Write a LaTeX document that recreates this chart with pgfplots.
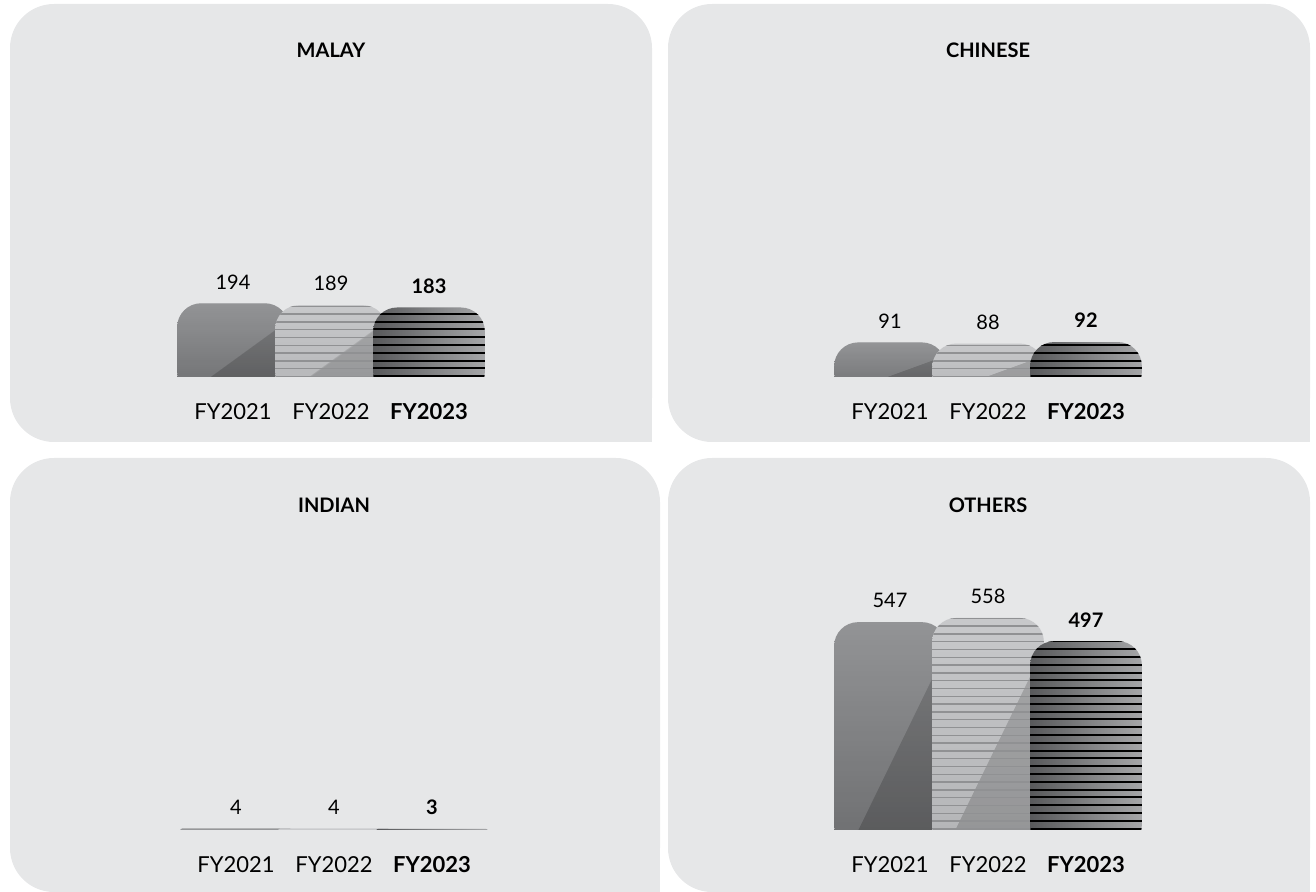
\documentclass[border=0pt]{standalone}
\usepackage{fontspec}
\setmainfont{Lato}
\usepackage{pgfplots}
\pgfplotsset{compat=1.18}
\usetikzlibrary{patterns}
\definecolor{panelbg}{HTML}{E6E7E8}
\definecolor{bonetop}{HTML}{97989A}
\definecolor{bonebot}{HTML}{6A6B6D}
\definecolor{btwotop}{HTML}{CACBCD}
\definecolor{btwobot}{HTML}{B2B3B5}
\definecolor{btwoline}{HTML}{909193}
\definecolor{bthrl}{HTML}{58595B}
\definecolor{bthrr}{HTML}{A5A6A8}
\definecolor{dgonel}{HTML}{808183}
\definecolor{dgtwol}{HTML}{BEBFC1}
\pgfdeclarehorizontalshading{dgone}{100bp}{color(0bp)=(dgonel); color(54bp)=(dgonel); color(54.2bp)=(black); color(100bp)=(black)}
\pgfdeclarehorizontalshading{dgtwo}{100bp}{color(0bp)=(dgtwol); color(54bp)=(dgtwol); color(54.2bp)=(black); color(100bp)=(black)}
\pgfdeclarepatternformonly{stripethin}{\pgfpoint{-1pt}{-1pt}}{\pgfpoint{41pt}{4.9pt}}{\pgfpoint{40pt}{3.9pt}}{\pgfpathrectangle{\pgfpoint{-1pt}{0pt}}{\pgfpoint{42pt}{0.7pt}}\pgfusepath{fill}}
\pgfdeclarepatternformonly{stripethick}{\pgfpoint{-1pt}{-1pt}}{\pgfpoint{41pt}{4.9pt}}{\pgfpoint{40pt}{3.9pt}}{\pgfpathrectangle{\pgfpoint{-1pt}{0pt}}{\pgfpoint{42pt}{0.95pt}}\pgfusepath{fill}}
\pgfplotsset{
  panel/.style={
    scale only axis, width=196pt, height=142.5pt,
    xmin=-1, xmax=3, ymin=-50, ymax=700,
    anchor=south west,
    y coord trafo/.code={\pgfmathparse{##1+50}},
    y coord inv trafo/.code={\pgfmathparse{##1-50}},
    axis line style={draw=none}, tick style={draw=none},
    ytick=\empty, xtick={0,1,2},
    xticklabels={FY2021,FY2022,\textbf{FY2023}},
    xticklabel style={font=\fontsize{11}{13}\selectfont, yshift=0pt},
    clip=false,
    point meta=explicit symbolic,
    nodes near coords style={font=\fontsize{10}{12}\selectfont, anchor=south, yshift=3.5pt},
    every axis plot/.append style={ybar, bar width=1.14, bar shift=0pt, draw=none, rounded corners=\barr},
  },
  bone/.style={top color=bonetop, bottom color=bonebot, nodes near coords},
  btwo/.style={top color=btwotop, bottom color=btwobot, nodes near coords},
  bthree/.style={left color=bthrl, right color=bthrr, nodes near coords,
    nodes near coords style={font=\fontsize{10}{12}\selectfont\bfseries}},
  diagA/.style={shading=dgone, shading angle=#1, fill opacity=0.17},
  diagB/.style={shading=dgtwo, shading angle=#1, fill opacity=0.17},
  thinstripes/.style={pattern=stripethin, pattern color=btwoline},
  thickstripes/.style={pattern=stripethick, pattern color=black},
}
\newcommand\barr{12pt}
\newcommand\cover{\fill[panelbg] (axis cs:-1,-56) rectangle (axis cs:3,0);}
\begin{document}
\begin{tikzpicture}
\path[use as bounding box] (0pt,0pt) rectangle (658pt,-446pt);
% panels
\fill[panelbg, rounded corners=22pt] (5pt,-2pt) rectangle (326pt,-221pt);
\fill[panelbg] (290pt,-190pt) rectangle (326pt,-221pt);
\fill[panelbg, rounded corners=22pt] (334pt,-2pt) rectangle (655pt,-221pt);
\fill[panelbg] (620pt,-190pt) rectangle (655pt,-221pt);
\fill[panelbg, rounded corners=22pt] (5pt,-229pt) rectangle (330pt,-446pt);
\fill[panelbg] (290pt,-410pt) rectangle (330pt,-446pt);
\fill[panelbg, rounded corners=22pt] (334pt,-229pt) rectangle (655pt,-446pt);
\fill[panelbg] (620pt,-410pt) rectangle (655pt,-446pt);
% titles
\node[font=\fontsize{10}{12}\selectfont\bfseries] at (165.5pt,-25pt) {MALAY};
\node[font=\fontsize{10}{12}\selectfont\bfseries] at (494pt,-25pt) {CHINESE};
\node[font=\fontsize{10}{12}\selectfont\bfseries] at (167pt,-252.5pt) {INDIAN};
\node[font=\fontsize{10}{12}\selectfont\bfseries] at (494pt,-252.5pt) {OTHERS};
% MALAY
\begin{axis}[panel, at={(67.5pt,-198pt)}]
\addplot[bone] coordinates {(0,194) [194]};
\addplot[diagA=-54] coordinates {(0,194) [194]};
\addplot[btwo] coordinates {(1,189) [189]};
\addplot[diagB=-54] coordinates {(1,189) [189]};
\addplot[thinstripes] coordinates {(1,189) [189]};
\addplot[bthree] coordinates {(2,183) [183]};
\addplot[thickstripes] coordinates {(2,183) [183]};
\cover
\end{axis}
% CHINESE
\begin{axis}[panel, at={(396pt,-198pt)}]
\addplot[bone] coordinates {(0,91) [91]};
\addplot[diagA=-70] coordinates {(0,91) [91]};
\addplot[btwo] coordinates {(1,88) [88]};
\addplot[diagB=-70] coordinates {(1,88) [88]};
\addplot[thinstripes] coordinates {(1,88) [88]};
\addplot[bthree] coordinates {(2,92) [92]};
\addplot[thickstripes] coordinates {(2,92) [92]};
\cover
\end{axis}
% INDIAN
\renewcommand\barr{1pt}
\begin{axis}[panel, at={(69pt,-424.5pt)}]
\addplot[bone] coordinates {(0,4) [4]};
\addplot[btwo] coordinates {(1,4) [4]};
\addplot[bthree] coordinates {(2,3) [3]};
\cover
\end{axis}
\renewcommand\barr{12pt}
% OTHERS
\begin{axis}[panel, at={(396pt,-424.5pt)}]
\addplot[bone] coordinates {(0,547) [547]};
\addplot[diagA=-26] coordinates {(0,547) [547]};
\addplot[btwo] coordinates {(1,558) [558]};
\addplot[diagB=-26] coordinates {(1,558) [558]};
\addplot[thinstripes] coordinates {(1,558) [558]};
\addplot[bthree] coordinates {(2,497) [497]};
\addplot[thickstripes] coordinates {(2,497) [497]};
\cover
\end{axis}
\end{tikzpicture}
\end{document}
